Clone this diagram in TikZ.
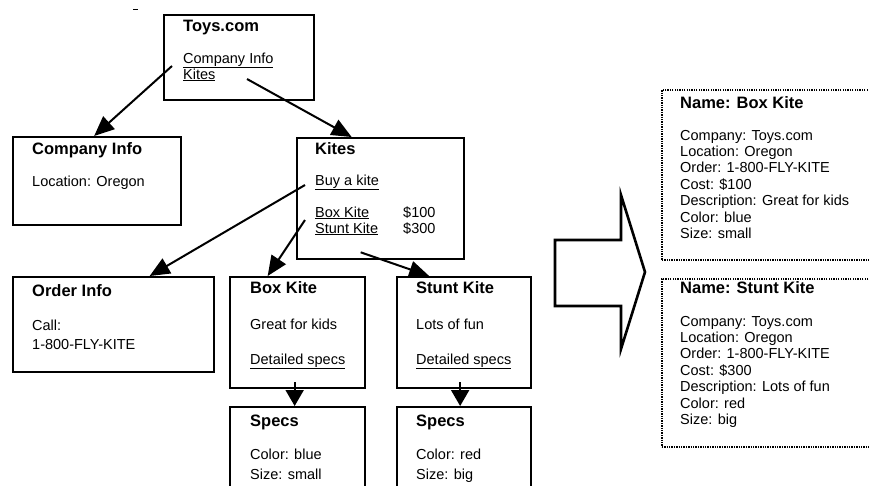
\documentclass[tikz,border=0pt]{standalone}
\usepackage{fontspec}
\setmainfont{Liberation Sans}
\usetikzlibrary{arrows.meta}

\tikzset{
  box/.style={draw, line width=2.3pt, inner sep=0pt, anchor=north west},
  infobox/.style={draw, dash pattern=on 1.3pt off 1.1pt, line width=1.7pt, inner sep=0pt, anchor=north west},
  ttl/.style={anchor=base west, inner sep=0pt, font=\fontsize{16.5}{19}\selectfont\bfseries},
  txt/.style={anchor=base west, inner sep=0pt, font=\fontsize{14.5}{17}\selectfont},
  conn/.style={line width=2pt, -{Triangle[length=20pt,width=17pt]}},
  downconn/.style={line width=2pt, -{Triangle[length=16pt,width=18pt]}},
  bigarrow/.style={line width=2.6pt, line join=miter}
}

\begin{document}
\begin{tikzpicture}[x=1pt,y=-1pt]
\clip (0,0) rectangle (869,485);
\fill[white] (0,0) rectangle (869,485);

% stray mark
\draw[line width=1pt] (133,9) -- (138,9);

% Boxes
\node[box, minimum width=150pt, minimum height=85pt] (toys) at (163,14) {};
\node[box, minimum width=168pt, minimum height=88pt] (cinfo) at (12,136) {};
\node[box, minimum width=167pt, minimum height=121pt] (kites) at (296,137) {};
\node[box, minimum width=201pt, minimum height=95pt] (order) at (12,276) {};
\node[box, minimum width=135pt, minimum height=111pt] (bkite) at (229,276) {};
\node[box, minimum width=134pt, minimum height=111pt] (skite) at (396,276) {};
\node[box, minimum width=135pt, minimum height=100pt] (bspecs) at (229,406) {};
\node[box, minimum width=134pt, minimum height=100pt] (sspecs) at (396,406) {};

% Merged pages
\node[infobox, minimum width=240pt, minimum height=170pt] (bkinfo) at (661,89) {};
\node[infobox, minimum width=240pt, minimum height=168pt] (skinfo) at (661,278) {};

% Text Node
\node[ttl] (toysttl) at (183,31) {Toys.com};
\node[txt] (cilink) at (183,63) {\underline{Company Info}};
\node[txt] (kitelink) at (183,79) {\underline{Kites}};
% Text Node
\node[ttl] (cittl) at (32,154) {Company Info};
\node[txt] (loc) at (32,186) {Location: Oregon};
% Text Node
\node[ttl] (kitesttl) at (315,154) {Kites};
\node[txt] (buy) at (315,185) {\underline{Buy a kite}};
\node[txt] (bklink) at (315,217) {\underline{Box Kite}};
\node[txt] (sklink) at (315,233) {\underline{Stunt Kite}};
\node[txt] (bkcost) at (403,217) {\$100};
\node[txt] (skcost) at (403,233) {\$300};
% Text Node
\node[ttl] (orderttl) at (32,296) {Order Info};
\node[txt] (call) at (32,330) {Call:};
\node[txt] (phone) at (32,349) {1-800-FLY-KITE};
% Text Node
\node[ttl] (bkttl) at (250,293) {Box Kite};
\node[txt] (bkdesc) at (250,329) {Great for kids};
\node[txt] (bkspeclink) at (250,364) {\underline{Detailed specs}};
\node[ttl] (skttl) at (416,293) {Stunt Kite};
\node[txt] (skdesc) at (416,329) {Lots of fun};
\node[txt] (skspeclink) at (416,364) {\underline{Detailed specs}};
% Text Node
\node[ttl] (bsttl) at (250,426) {Specs};
\node[txt] (bscolor) at (250,459) {Color: blue};
\node[txt] (bssize) at (250,479) {Size: small};
\node[ttl] (ssttl) at (416,426) {Specs};
\node[txt] (sscolor) at (416,459) {Color: red};
\node[txt] (sssize) at (416,479) {Size: big};

% Text Node
\node[ttl] (bkname) at (680,108) {Name: Box Kite};
\foreach \t [count=\i] in {Company: Toys.com, Location: Oregon, Order: 1-800-FLY-KITE,
    Cost: \$100, Description: Great for kids, Color: blue, Size: small}
  \node[txt] (bkline\i) at (680,{140+16.4*(\i-1)}) {\t};
\node[ttl] (skname) at (680,293) {Name: Stunt Kite};
\foreach \t [count=\i] in {Company: Toys.com, Location: Oregon, Order: 1-800-FLY-KITE,
    Cost: \$300, Description: Lots of fun, Color: red, Size: big}
  \node[txt] (skline\i) at (680,{326+16.4*(\i-1)}) {\t};

% Links
\draw[conn] ([xshift=-11pt,yshift=-3pt]cilink.base west) -- ([xshift=-3pt]cinfo.north);
\draw[conn] ([xshift=64pt]kitelink.base west) -- ([xshift=-29pt]kites.north);
\draw[conn] ([xshift=-10pt]buy.base west) -- ([xshift=36pt]order.north);
\draw[conn] ([xshift=-10pt,yshift=-3pt]bklink.base west) -- ([xshift=-30pt]bkite.north);
\draw[conn] ([xshift=-20pt,yshift=8pt]kites.south) -- ([xshift=-35pt]skite.north);
\draw[downconn] ([xshift=-3pt,yshift=7pt]bkite.south) -- ([xshift=-3pt]bspecs.north);
\draw[downconn] ([xshift=-4pt,yshift=7pt]skite.south) -- ([xshift=-4pt]sspecs.north);

% Big arrow
\draw[bigarrow] (555,240) -- (621,240) -- (621,195) -- (645,272) -- (621,349) -- (621,306) -- (555,306) -- cycle;

\end{tikzpicture}
\end{document}
